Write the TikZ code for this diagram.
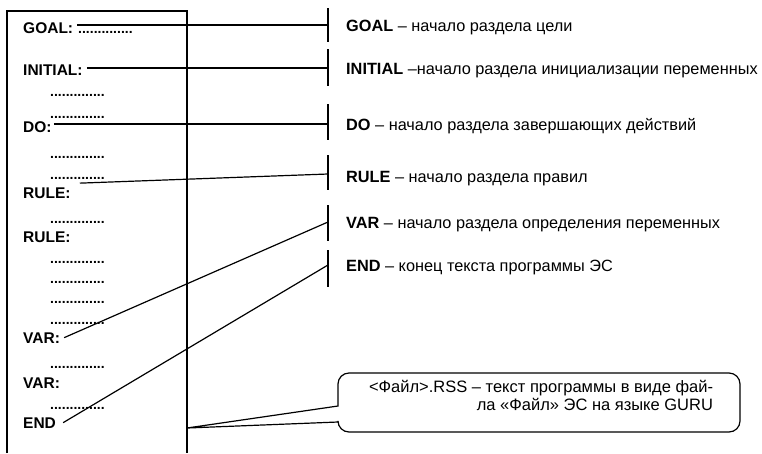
\documentclass[tikz,border=0pt]{standalone}
\usepackage{fontspec}
\setmainfont{Liberation Sans}
\usetikzlibrary{calc}
\def\mydots{..............}
\begin{document}
\begin{tikzpicture}[x=1pt,y=-1pt,
  lab/.style={font=\fontsize{15.5}{18}\selectfont\bfseries, anchor=base west, inner sep=0pt},
  dts/.style={font=\fontsize{14}{16}\selectfont\bfseries, anchor=base west, inner sep=0pt},
  desc/.style={font=\fontsize{16.3}{19}\selectfont, anchor=base west, inner sep=0pt},
  conn/.style={line width=1.2pt},
  tickline/.style={line width=1.2pt},
  frame/.style={line width=2pt},
]
\useasboundingbox (0,0) rectangle (762,453);
% program frame
\draw[frame] (7,453) -- (7,11) -- (187,11) -- (187,453);
% left labels
\node[lab] (lgoal) at (23,33) {GOAL:};
\node[dts] (dgoal) at (78,33) {\mydots};
\node[lab] (linit) at (23,75) {INITIAL:};
\node[dts] (d1) at (50,96) {\mydots};
\node[dts] (d2) at (50,118) {\mydots};
\node[lab] (ldo) at (23,132) {DO:};
\node[dts] (d3) at (50,158) {\mydots};
\node[dts] (d4) at (50,179) {\mydots};
\node[lab] (lrule1) at (23,198) {RULE:};
\node[dts] (d5) at (50,223) {\mydots};
\node[lab] (lrule2) at (23,242) {RULE:};
\node[dts] (d6) at (50,263) {\mydots};
\node[dts] (d7) at (50,283) {\mydots};
\node[dts] (d8) at (50,303) {\mydots};
\node[dts] (d9) at (50,324) {\mydots};
\node[lab] (lvar1) at (23,343) {VAR:};
\node[dts] (d10) at (50,368) {\mydots};
\node[lab] (lvar2) at (23,388) {VAR:};
\node[dts] (d11) at (50,409) {\mydots};
\node[lab] (lend) at (23,428) {END};
% ticks
\draw[tickline] (328,8) -- (328,42);
\draw[tickline] (328,49) -- (328,86);
\draw[tickline] (328,104) -- (328,140);
\draw[tickline] (328,155) -- (328,190);
\draw[tickline] (328,205) -- (328,241);
\draw[tickline] (328,250) -- (328,287);
\coordinate (tgoal) at (328,25);
\coordinate (tinit) at (328,68);
\coordinate (tdo) at (328,124);
\coordinate (trule) at (328,174);
\coordinate (tvar) at (328,222);
\coordinate (tend) at (328,265);
% descriptions
\node[desc] (rgoal) at (346,31) {\textbf{GOAL} – начало раздела цели};
\node[desc] (rinit) at (346,74) {\textbf{INITIAL} –начало раздела инициализации переменных};
\node[desc] (rdo) at (346,130) {\textbf{DO} – начало раздела завершающих действий};
\node[desc] (rrule) at (346,182) {\textbf{RULE} – начало раздела правил};
\node[desc] (rvar) at (346,228) {\textbf{VAR} – начало раздела определения переменных};
\node[desc] (rend) at (346,271) {\textbf{END} – конец текста программы ЭС};
% connectors
\draw[conn] ([xshift=4pt]lgoal.east |- tgoal) -- (tgoal);
\draw[conn] ([xshift=4pt]linit.east |- tinit) -- (tinit);
\draw[conn] ([xshift=2pt]ldo.east |- tdo) -- (tdo);
\draw[conn] ($(lrule1.north east)+(9,-4)$) -- (trule);
\draw[conn] ([xshift=4pt]lvar1.east) -- (tvar);
\draw[conn] ([xshift=7pt]lend.east) -- (tend);
% callout
\coordinate (tip) at (187,428);
\draw[conn] (tip) -- (338,406) [rounded corners=11pt] -- (338,373) -- (740,373) -- (740,432) -- (338,432) [sharp corners] -- (338,422) -- cycle;
\node[font=\fontsize{16.5}{18}\selectfont, align=right, inner sep=0pt] (ctext) at (541,395) {<Файл>.RSS – текст программы в виде фай-\\ла «Файл» ЭС на языке GURU};
\end{tikzpicture}
\end{document}
